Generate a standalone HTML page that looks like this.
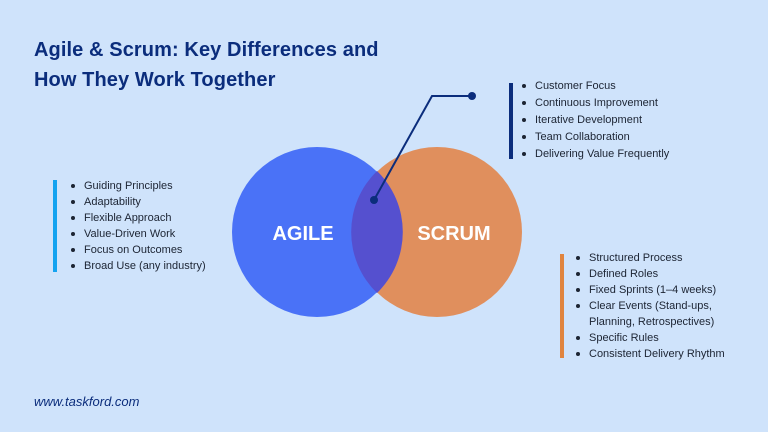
<!DOCTYPE html>
<html><head><meta charset="utf-8"><style>
*{margin:0;padding:0}
body{width:768px;height:432px;background:#cfe3fb;position:relative;overflow:hidden;font-family:"Liberation Sans",sans-serif}
.t{position:absolute;left:34px;color:#0b2d7c;font-weight:bold;font-size:20px;letter-spacing:0.1px}
.l{position:absolute;font-size:11px;color:#1c2433;white-space:nowrap;line-height:14px}
.l::before{content:"";position:absolute;left:-13px;top:5px;width:4px;height:4px;border-radius:50%;background:#1c2433}
.l.nb::before{display:none}
.bar{position:absolute;width:4px}
</style></head><body>
<div class="t" style="top:39px">Agile &amp; Scrum: Key Differences and</div>
<div class="t" style="top:69px">How They Work Together</div>
<svg style="position:absolute;left:0;top:0" width="768" height="432">
<circle cx="317" cy="232" r="85" fill="#4a72f7"/>
<circle cx="437" cy="232" r="85" fill="#e08f5d"/>
<path d="M377,171 A85,85 0 0 1 377,293 A85,85 0 0 1 377,171Z" fill="#5550cf"/>
<polyline points="374,200 432,96 472,96" fill="none" stroke="#0b2d7c" stroke-width="2"/>
<circle cx="374" cy="200" r="4" fill="#0b2d7c"/>
<circle cx="472" cy="96" r="4" fill="#0b2d7c"/>
<text x="303" y="240" text-anchor="middle" fill="#fff" font-family="Liberation Sans" font-weight="bold" font-size="20">AGILE</text>
<text x="454" y="240" text-anchor="middle" fill="#fff" font-family="Liberation Sans" font-weight="bold" font-size="20">SCRUM</text>
</svg>
<div class="bar" style="left:509px;top:83px;height:76px;background:#0b2d7c"></div>
<div class="l" style="left:535px;top:79px">Customer Focus</div>
<div class="l" style="left:535px;top:96px">Continuous Improvement</div>
<div class="l" style="left:535px;top:113px">Iterative Development</div>
<div class="l" style="left:535px;top:130px">Team Collaboration</div>
<div class="l" style="left:535px;top:147px">Delivering Value Frequently</div>
<div class="bar" style="left:53px;top:180px;height:92px;background:#14a3f0"></div>
<div class="l" style="left:84px;top:179px">Guiding Principles</div>
<div class="l" style="left:84px;top:195px">Adaptability</div>
<div class="l" style="left:84px;top:211px">Flexible Approach</div>
<div class="l" style="left:84px;top:227px">Value-Driven Work</div>
<div class="l" style="left:84px;top:243px">Focus on Outcomes</div>
<div class="l" style="left:84px;top:259px">Broad Use (any industry)</div>
<div class="bar" style="left:560px;top:254px;height:104px;background:#e0843f"></div>
<div class="l" style="left:589px;top:251px">Structured Process</div>
<div class="l" style="left:589px;top:267px">Defined Roles</div>
<div class="l" style="left:589px;top:283px">Fixed Sprints (1–4 weeks)</div>
<div class="l" style="left:589px;top:299px">Clear Events (Stand-ups,</div>
<div class="l nb" style="left:589px;top:315px">Planning, Retrospectives)</div>
<div class="l" style="left:589px;top:331px">Specific Rules</div>
<div class="l" style="left:589px;top:347px">Consistent Delivery Rhythm</div>
<div style="position:absolute;left:34px;top:394px;font-size:13px;font-style:italic;color:#0b2d7c">www.taskford.com</div>
</body></html>
